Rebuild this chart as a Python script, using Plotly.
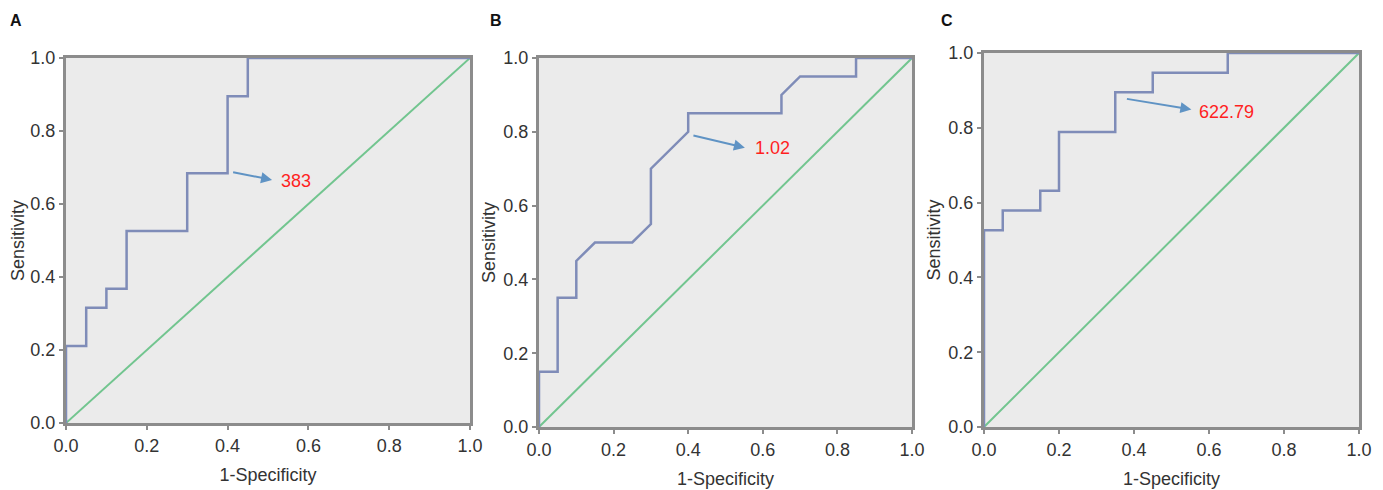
import plotly.graph_objects as go

# ---- Data ----
panel_labels = ["A", "B", "C"]

a_fpr = [0, 0, 0.05, 0.05, 0.10, 0.10, 0.15, 0.15, 0.30, 0.30, 0.40, 0.40, 0.45, 0.45, 1.0]
a_tpr = [0, 0.211, 0.211, 0.316, 0.316, 0.368, 0.368, 0.526, 0.526, 0.684, 0.684, 0.895, 0.895, 1.0, 1.0]

b_fpr = [0, 0, 0.05, 0.05, 0.10, 0.10, 0.15, 0.25, 0.30, 0.30, 0.40, 0.40, 0.65, 0.65, 0.70, 0.85, 0.85, 1.0]
b_tpr = [0, 0.15, 0.15, 0.35, 0.35, 0.45, 0.50, 0.50, 0.55, 0.70, 0.80, 0.85, 0.85, 0.90, 0.95, 0.95, 1.0, 1.0]

c_fpr = [0, 0, 0.05, 0.05, 0.15, 0.15, 0.20, 0.20, 0.35, 0.35, 0.45, 0.45, 0.65, 0.65, 1.0]
c_tpr = [0, 0.526, 0.526, 0.579, 0.579, 0.632, 0.632, 0.789, 0.789, 0.895, 0.895, 0.947, 0.947, 1.0, 1.0]

cutoff_labels = ["383", "1.02", "622.79"]
# arrow tail (x, y), arrow head (x, y), label position (x, y)
arrow_tail = [(0.41, 0.688), (0.41, 0.791), (0.377, 0.878)]
arrow_head = [(0.51, 0.666), (0.552, 0.757), (0.553, 0.849)]
label_pos = [(0.528, 0.663), (0.574, 0.756), (0.569, 0.842)]

ticks = [0.0, 0.2, 0.4, 0.6, 0.8, 1.0]
tick_text = ["0.0", "0.2", "0.4", "0.6", "0.8", "1.0"]

curves = [(a_fpr, a_tpr), (b_fpr, b_tpr), (c_fpr, c_tpr)]

# ---- Layout geometry ----
OFF = 8  # page body margin offset
W, H = 1383 - OFF, 490 - OFF
px_boxes = [(66, 470, 58, 423), (539, 912, 58, 427), (984, 1359, 53, 427)]
label_px = [(16, 20), (496, 20), (947, 20)]

FONT = "Liberation Sans, Arial, sans-serif"
fig = go.Figure()

for i, ((fx, fy), (x0, x1, yt, yb)) in enumerate(zip(curves, px_boxes)):
    x0, x1, yt, yb = x0 - OFF, x1 - OFF, yt - OFF, yb - OFF
    xa = "x" if i == 0 else f"x{i+1}"
    ya = "y" if i == 0 else f"y{i+1}"
    # diagonal reference
    fig.add_trace(go.Scatter(x=[0, 1], y=[0, 1], mode="lines",
                             line=dict(color="#72c58f", width=2),
                             xaxis=xa, yaxis=ya, showlegend=False, hoverinfo="skip"))
    fig.add_trace(go.Scatter(x=fx, y=fy, mode="lines",
                             line=dict(color="#7f8cb8", width=2.5),
                             xaxis=xa, yaxis=ya, showlegend=False))
    axis_common = dict(range=[0, 1], tickvals=ticks, ticktext=tick_text,
                       showgrid=False, zeroline=False, showline=True, mirror=True,
                       linecolor="#8c8c8c", linewidth=3, ticks="outside",
                       ticklen=4, tickwidth=2, tickcolor="#8c8c8c",
                       tickfont=dict(family=FONT, size=18, color="#333333"),
                       automargin=False, fixedrange=True)
    xkey = "xaxis" if i == 0 else f"xaxis{i+1}"
    ykey = "yaxis" if i == 0 else f"yaxis{i+1}"
    fig.update_layout({
        xkey: dict(axis_common, domain=[x0 / W, x1 / W], anchor=ya,
                   title=dict(text="1-Specificity", standoff=14,
                              font=dict(family=FONT, size=18, color="#333333"))),
        ykey: dict(axis_common, domain=[1 - yb / H, 1 - yt / H], anchor=xa,
                   title=dict(text="Sensitivity", standoff=4,
                              font=dict(family=FONT, size=18, color="#333333"))),
    })
    # arrow
    fig.add_annotation(x=arrow_head[i][0], y=arrow_head[i][1],
                       ax=arrow_tail[i][0], ay=arrow_tail[i][1],
                       xref=xa, yref=ya, axref=xa, ayref=ya,
                       showarrow=True, arrowhead=2, arrowsize=1.1, arrowwidth=2,
                       arrowcolor="#5f93c4", text="")
    fig.add_annotation(x=label_pos[i][0], y=label_pos[i][1], xref=xa, yref=ya,
                       text=cutoff_labels[i], showarrow=False, xanchor="left",
                       yanchor="middle",
                       font=dict(family=FONT, size=18, color="#ff1f1f"))
    # panel letter
    lx, ly = label_px[i]
    fig.add_annotation(x=(lx - OFF) / W, y=1 - (ly - OFF) / H, xref="paper", yref="paper",
                       text=f"<b>{panel_labels[i]}</b>", showarrow=False,
                       xanchor="center", yanchor="middle",
                       font=dict(family=FONT, size=16, color="#111111"))

fig.update_layout(width=W, height=H,
                  margin=dict(l=0, r=0, t=0, b=0, autoexpand=False),
                  paper_bgcolor="white", plot_bgcolor="#ebebeb",
                  showlegend=False)

fig.write_html("out.html")
